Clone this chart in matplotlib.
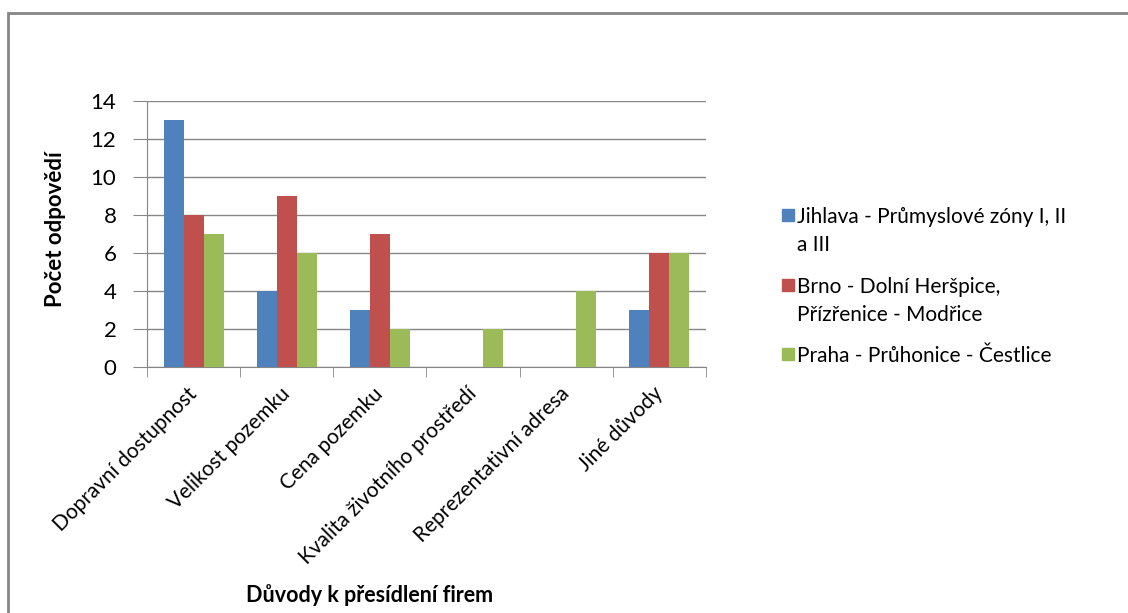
import numpy as np
import matplotlib.pyplot as plt
from matplotlib.patches import Rectangle

plt.rcParams['font.family'] = ['Lato', 'DejaVu Sans']

# důvody a počty odpovědí pro jednotlivé lokality
duvody = ['Dopravní dostupnost', 'Velikost pozemku', 'Cena pozemku',
          'Kvalita životního prostředí', 'Reprezentativní adresa', 'Jiné důvody']
jihlava = [13, 4, 3, 0, 0, 3]
brno = [8, 9, 7, 0, 0, 6]
praha = [7, 6, 2, 2, 4, 6]

nazvy = ['Jihlava - Průmyslové zóny I, II\na III',
         'Brno - Dolní Heršpice,\nPřízřenice - Modřice',
         'Praha - Průhonice - Čestlice']
barvy = ['#4F81BD', '#C0504D', '#9BBB59']

fig = plt.figure(figsize=(11.28, 6.13), dpi=100)
ax = fig.add_axes([0.1303, 0.4013, 0.4956, 0.4339])

x = np.arange(len(duvody))
w = 0.215
for i, (vals, c) in enumerate(zip([jihlava, brno, praha], barvy)):
    ax.bar(x + (i - 1) * w, vals, width=w, color=c, zorder=3)

ax.set_xlim(-0.5, len(duvody) - 0.5)
ax.set_ylim(0, 14)
ax.set_yticks(range(0, 15, 2))
ax.grid(axis='y', color='#868686', linewidth=1, zorder=0)
ax.set_xticks(x)
ax.set_xticklabels(duvody, rotation=45, ha='right', va='center',
                   rotation_mode='anchor', fontsize=15)
ax.set_xticks(np.arange(-0.5, len(duvody)), minor=True)
ax.tick_params(axis='x', which='major', length=0, pad=17)
ax.tick_params(axis='x', which='minor', length=7, color='#868686')
ax.tick_params(axis='y', length=10, color='#868686', labelsize=16, pad=12)
for s in ['top', 'right']:
    ax.spines[s].set_visible(False)
for s in ['left', 'bottom']:
    ax.spines[s].set_color('#868686')

ax.set_ylabel('Počet odpovědí', fontsize=16, fontweight='bold')
ax.yaxis.set_label_coords(-0.145, 0.52)
fig.text(0.328, 0.018, 'Důvody k přesídlení firem', fontsize=15.5, fontweight='bold', ha='center')

# legenda
ly = [0.648, 0.534, 0.421]
for nazev, c, y in zip(nazvy, barvy, ly):
    fig.patches.append(Rectangle((0.693, y - 0.009), 0.0105, 0.02, color=c,
                                 transform=fig.transFigure))
    fig.text(0.707, y + 0.014, nazev, fontsize=15, va='top', linespacing=1.5)

# rámeček grafu
fig.patches.append(Rectangle((0.0075, -0.1), 1.1, 1.1 - 0.0215, fill=False,
                             edgecolor='#868686', linewidth=2, transform=fig.transFigure))

fig.savefig('out.png', dpi=100)
